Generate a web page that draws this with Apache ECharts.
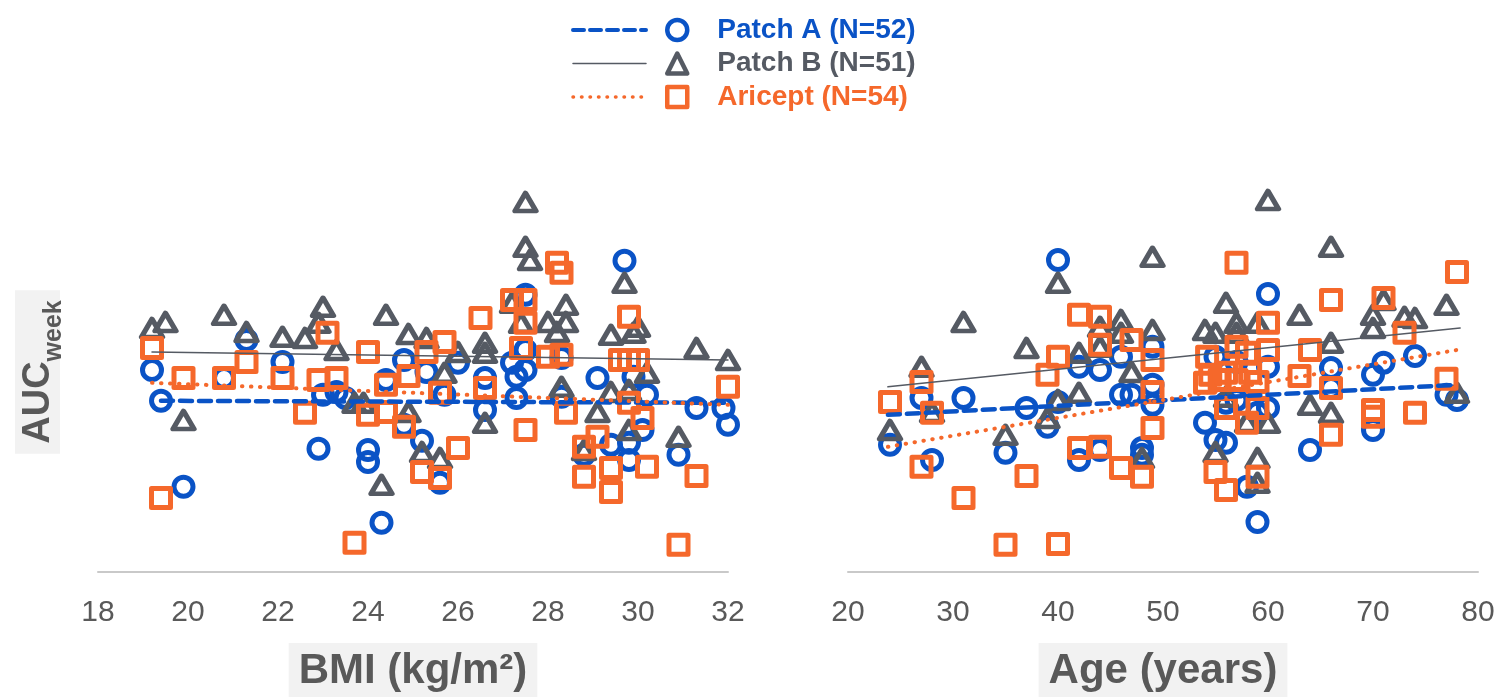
<!DOCTYPE html>
<html>
<head>
<meta charset="utf-8">
<title>AUC week vs BMI and Age</title>
<script src="https://cdn.jsdelivr.net/npm/echarts@6/dist/echarts.min.js"></script>
<style>
  html, body { margin: 0; padding: 0; background: #fff; }
  #chart { width: 1503px; height: 697px; }
</style>
</head>
<body>
<div id="chart"></div>
<script>
// values, AUC in arbitrary units (0 = the x axis line)
const seriesNames = ['Patch A (N=52)', 'Patch B (N=51)', 'Aricept (N=54)']
const fitNames = ['Patch A fit', 'Patch B fit', 'Aricept fit']
const bmiTicks = { min: 18, max: 32, step: 2 }
const ageTicks = { min: 20, max: 80, step: 10 }

// [BMI, AUC]
const bmiPatchA = [
  [19.2, 50.5], [19.4, 42.8], [19.9, 21.3], [20.8, 48.5], [21.3, 58], [22.1, 52.5],
  [22.9, 30.8], [23.0, 44.3], [23.3, 45], [23.5, 43.5], [24.0, 30.5], [24.0, 27.5],
  [24.3, 12.3], [24.4, 48], [24.8, 36.8], [25.2, 32.8], [24.8, 53], [25.3, 50],
  [25.7, 44.3], [26.0, 52.3], [26.6, 48.5], [26.6, 40.5], [25.6, 22.3], [27.2, 52.3],
  [27.3, 48.8], [27.5, 50.5], [27.3, 43.5], [27.5, 69.3], [27.5, 55.5], [28.3, 43.8],
  [28.3, 53.5], [29.1, 48.5], [29.9, 48.8], [30.2, 44.3], [29.4, 31.8], [29.8, 32.3],
  [29.8, 28], [30.1, 35.5], [28.8, 29.3], [29.7, 77.8], [30.9, 29.3], [31.3, 41],
  [31.9, 41], [32.0, 36.8]
]
const bmiPatchB = [
  [19.2, 61], [19.5, 62.5], [19.9, 38], [20.8, 64.3], [21.3, 60], [22.1, 58.8],
  [22.6, 58.5], [23.0, 66.3], [22.9, 62.3], [23.3, 55.5], [23.7, 42.3], [23.9, 42.3],
  [24.3, 21.8], [24.4, 64.3], [24.9, 59.5], [24.9, 40], [25.2, 30], [25.3, 58.5],
  [25.6, 28.5], [25.7, 49.8], [26.0, 55], [26.6, 57.3], [26.6, 54.8], [26.6, 37.3],
  [27.2, 67.3], [27.4, 62.3], [27.5, 92.5], [27.5, 81.3], [27.6, 78], [28.0, 62.5],
  [28.2, 60], [28.3, 46.3], [28.4, 66.8], [28.4, 62.5], [28.8, 30.5], [29.1, 40],
  [29.4, 59.3], [29.4, 45], [29.7, 72.3], [29.8, 45.5], [29.8, 35.5], [29.9, 59.8],
  [30.0, 61.3], [30.2, 49.8], [30.9, 33.8], [31.3, 56], [32.0, 53]
]
const bmiAricept = [
  [19.2, 56], [19.4, 18.5], [19.9, 48.5], [20.8, 48.5], [21.3, 52.5], [22.1, 48.5],
  [22.6, 39.8], [22.9, 48], [23.1, 59.8], [23.3, 48.5], [23.7, 7.3], [24.0, 55],
  [24.0, 39.3], [24.4, 46.8], [24.4, 40], [24.8, 36.3], [24.9, 49], [25.2, 25],
  [25.3, 55], [25.6, 44.8], [25.6, 23.5], [25.7, 57.5], [26.0, 31], [26.5, 63.5],
  [26.6, 46], [27.2, 68], [27.4, 56], [27.5, 62.3], [27.5, 68], [27.5, 35.5],
  [28.0, 53.8], [28.2, 77.3], [28.3, 74.8], [28.3, 54.3], [28.4, 39.8], [28.8, 23.8],
  [28.8, 31.3], [29.1, 33.8], [29.4, 26], [29.4, 20], [29.6, 53], [29.8, 53],
  [30.0, 53], [29.8, 63.8], [29.8, 42.3], [30.1, 38.5], [30.2, 26.3], [30.9, 6.8],
  [31.3, 24], [32.0, 46.3]
]
const bmiFitA = [[19.4, 42.8], [32.0, 42.3]]
const bmiFitB = [[19.2, 55], [32.0, 53]]
const bmiFitAricept = [[19.2, 47.3], [32.0, 41.8]]

// [age, AUC]
const agePatchA = [
  [24, 31.8], [27, 43.5], [28, 28], [31, 43.5], [35, 29.8], [37, 41], [39, 36.3],
  [40, 42.5], [40, 78], [42, 51.3], [44, 50.5], [42, 28], [44, 30.5], [46, 53.8],
  [46, 44.3], [47, 44.3], [48, 31], [48, 29.3], [49, 56.3], [49, 46.8], [49, 41.8],
  [54, 37.3], [55, 53.8], [55, 33], [56, 32.3], [56, 42.3], [57, 52.5], [57, 43],
  [58, 21.3], [59, 12.5], [59, 39.8], [60, 69.5], [60, 51.3], [60, 41], [64, 30.5],
  [66, 51], [66, 46], [70, 49.3], [70, 35.5], [71, 52.3], [74, 54], [77, 44.3], [78, 43]
]
const agePatchB = [
  [24, 35.5], [27, 51.3], [28, 40], [31, 62.5], [35, 34.3], [37, 56], [39, 38.5],
  [40, 72.3], [40, 43], [42, 54.8], [42, 44.8], [44, 61.3], [44, 56.3], [46, 63],
  [46, 59.8], [47, 50], [48, 28.5], [49, 78.8], [49, 60.5], [54, 60.5], [55, 59.8],
  [55, 30], [56, 67.3], [56, 43.8], [57, 62.3], [57, 59.8], [58, 37.5], [59, 28.5],
  [59, 22.3], [59, 62.3], [60, 93], [60, 37.3], [63, 64.3], [64, 41.8], [66, 81.3],
  [66, 57.3], [66, 39.8], [70, 64.3], [70, 61], [71, 68], [73, 63.8], [74, 63.5],
  [77, 66.8], [78, 44.8]
]
const ageAricept = [
  [24, 42.5], [27, 47.5], [28, 39.8], [27, 26.3], [31, 18.5], [35, 6.8], [37, 24],
  [39, 49.3], [40, 53.8], [40, 7], [42, 64.3], [42, 31], [44, 63.8], [44, 56.8],
  [44, 31.3], [46, 26], [47, 58], [48, 23.8], [49, 53], [49, 45], [49, 36],
  [54, 47.3], [54.2, 53.8], [54.5, 49.3], [55, 25], [55.4, 48], [56, 49.8], [56, 41],
  [56, 20.5], [57, 77.3], [57, 56.3], [57, 48], [58, 54.8], [58, 37.3], [58.3, 49.8],
  [59, 23.8], [59, 47.5], [59, 41], [60, 62.3], [60, 55.5], [63, 49], [64, 55.5],
  [66, 68], [66, 46], [66, 34.3], [70, 40.5], [70, 38.8], [71, 68.5], [73, 59.8],
  [74, 39.8], [77, 48.3], [78, 75]
]
const ageFitA = [[23.8, 39.3], [78.0, 46.8]]
const ageFitB = [[23.8, 46.3], [78.3, 61]]
const ageFitAricept = [[23.8, 31.3], [78.0, 55.5]]

const blue = '#0a53c6'
const gray = '#555a63'
const orange = '#f5682b'
const labelGray = '#595959'
const font = 'Liberation Sans, Arial, sans-serif'

function scatter(name, data, idx, symbol, size, color, z) {
  return {
    name: name,
    type: 'scatter',
    xAxisIndex: idx,
    yAxisIndex: idx,
    data: data,
    symbol: symbol,
    symbolSize: size,
    z: z,
    itemStyle: {
      color: 'rgba(0,0,0,0)',
      borderColor: color,
      borderWidth: 5,
      borderJoin: 'round',
      opacity: 1
    }
  }
}

function fit(name, data, idx, color, width, type) {
  return {
    name: name,
    type: 'line',
    xAxisIndex: idx,
    yAxisIndex: idx,
    data: data,
    symbol: 'none',
    silent: true,
    z: 6,
    itemStyle: { color: color },
    lineStyle: { color: color, width: width, type: type, cap: 'round' }
  }
}

function xAxis(idx, ticks, name) {
  return {
    gridIndex: idx,
    type: 'value',
    min: ticks.min,
    max: ticks.max,
    interval: ticks.step,
    axisLine: { show: true, onZero: false, lineStyle: { color: '#c9c9c9', width: 2 } },
    axisTick: { show: false },
    splitLine: { show: false },
    axisLabel: { fontSize: 30, color: labelGray, margin: 26, fontFamily: font },
    name: name,
    nameLocation: 'middle',
    nameGap: 71,
    nameTextStyle: {
      fontSize: 42,
      fontWeight: 'bold',
      color: labelGray,
      fontFamily: font,
      lineHeight: 46,
      backgroundColor: '#f2f2f2',
      padding: [5, 10, 3, 10]
    }
  }
}

const chart = echarts.init(document.getElementById('chart'))
chart.setOption({
  animation: false,
  backgroundColor: '#fff',
  grid: [
    { left: 98, width: 630, top: 172, bottom: 125, outerBoundsMode: 'none' },
    { left: 848, right: 25, top: 172, bottom: 125, outerBoundsMode: 'none' }
  ],
  legend: [
    {
      orient: 'vertical',
      left: 566,
      top: 11,
      itemWidth: 73,
      itemHeight: 14,
      itemGap: 5.5,
      selectedMode: false,
      data: [
        { name: fitNames[0], lineStyle: { width: 4, type: [11, 6] } },
        { name: fitNames[1], lineStyle: { width: 1.5 } },
        { name: fitNames[2], lineStyle: { width: 3.5, type: [0.5, 8], cap: 'round' } }
      ],
      formatter: () => ' ',
      itemStyle: { color: 'rgba(0,0,0,0)', borderWidth: 0, opacity: 0 },
      textStyle: { fontSize: 28, lineHeight: 28 }
    },
    {
      orient: 'vertical',
      left: 660,
      top: 11,
      itemWidth: 20,
      itemHeight: 20,
      itemGap: 5.5,
      itemStyle: { borderWidth: 4.5 },
      data: [
        { name: seriesNames[0], textStyle: { color: blue } },
        { name: seriesNames[1], textStyle: { color: gray } },
        { name: seriesNames[2], textStyle: { color: orange } }
      ],
      textStyle: {
        fontSize: 28,
        fontWeight: 'bold',
        fontFamily: font,
        lineHeight: 28,
        padding: [0, 0, 0, 25]
      }
    }
  ],
  xAxis: [
    xAxis(0, bmiTicks, 'BMI (kg/m²)'),
    xAxis(1, ageTicks, 'Age (years)')
  ],
  yAxis: [
    {
      gridIndex: 0,
      type: 'value',
      min: 0,
      max: 100,
      axisLine: { show: false },
      axisTick: { show: false },
      axisLabel: { show: false },
      splitLine: { show: false },
      name: '{a|AUC}{s|week}',
      nameLocation: 'middle',
      nameRotate: 90,
      nameGap: 38,
      nameTextStyle: {
        backgroundColor: '#f2f2f2',
        padding: [5, 10, 0, 10],
        rich: {
          a: { fontSize: 38, fontWeight: 'bold', color: labelGray, fontFamily: font, lineHeight: 40, verticalAlign: 'top' },
          s: { fontSize: 25, fontWeight: 'bold', color: labelGray, fontFamily: font, lineHeight: 25, verticalAlign: 'top', padding: [22, 0, 0, 0] }
        }
      }
    },
    { gridIndex: 1, type: 'value', min: 0, max: 100, show: false }
  ],
  series: [
    scatter(seriesNames[0], bmiPatchA, 0, 'circle', 19, blue, 2),
    scatter(seriesNames[1], bmiPatchB, 0, 'triangle', [21, 18], gray, 3),
    scatter(seriesNames[2], bmiAricept, 0, 'rect', 19, orange, 4),
    scatter(seriesNames[0], agePatchA, 1, 'circle', 19, blue, 2),
    scatter(seriesNames[1], agePatchB, 1, 'triangle', [21, 18], gray, 3),
    scatter(seriesNames[2], ageAricept, 1, 'rect', 19, orange, 4),
    fit(fitNames[0], bmiFitA, 0, blue, 4.5, [12, 7]),
    fit(fitNames[1], bmiFitB, 0, gray, 1.5, 'solid'),
    fit(fitNames[2], bmiFitAricept, 0, orange, 4, [0.5, 8.5]),
    fit(fitNames[0], ageFitA, 1, blue, 4.5, [12, 7]),
    fit(fitNames[1], ageFitB, 1, gray, 1.5, 'solid'),
    fit(fitNames[2], ageFitAricept, 1, orange, 4, [0.5, 8.5])
  ]
})
</script>
</body>
</html>
